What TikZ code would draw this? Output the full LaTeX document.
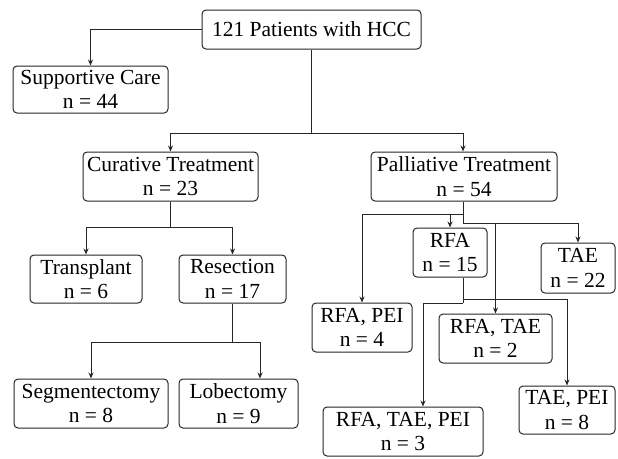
\documentclass[tikz,border=0pt]{standalone}
\usepackage{fontspec}
\setmainfont{Liberation Serif}
\usetikzlibrary{arrows.meta}
\begin{document}
\begin{tikzpicture}[x=1pt,y=-1pt,
  box/.style={draw=black!85,line width=1pt,rounded corners=4pt,inner sep=0pt,align=center,font=\fontsize{21.5}{24.5}\selectfont},
  link/.style={draw=black!85,line width=1pt},
  arr/.style={link,-{Stealth[length=6pt,width=5pt]}}]
\useasboundingbox (0,0) rectangle (618,458);
\node[box,minimum width=219pt,minimum height=39pt] (root) at (311.5,29.5) {121 Patients with HCC};
\node[box,minimum width=155pt,minimum height=47pt] (supp) at (90.5,89.5) {Supportive Care\\n = 44};
\node[box,minimum width=175pt,minimum height=49pt] (cur) at (170.5,176.5) {Curative Treatment\\n = 23};
\node[box,minimum width=186pt,minimum height=49pt] (pal) at (464,176.5) {Palliative Treatment\\n = 54};
\node[box,minimum width=112pt,minimum height=48pt] (trans) at (86,279) {Transplant\\n = 6};
\node[box,minimum width=107pt,minimum height=48pt] (res) at (232.5,279) {Resection\\n = 17};
\node[box,minimum width=154pt,minimum height=49pt] (seg) at (91,403.5) {Segmentectomy\\n = 8};
\node[box,minimum width=119pt,minimum height=49pt] (lob) at (238.5,403.5) {Lobectomy\\n = 9};
\node[box,minimum width=74pt,minimum height=49pt] (rfa) at (450,252.5) {RFA\\n = 15};
\node[box,minimum width=74pt,minimum height=50pt] (tae) at (578,268) {TAE\\n = 22};
\node[box,minimum width=100pt,minimum height=49pt] (rfapei) at (362,327.5) {RFA, PEI\\n = 4};
\node[box,minimum width=113pt,minimum height=49pt] (rfatae) at (495.5,338.5) {RFA, TAE\\n = 2};
\node[box,minimum width=96pt,minimum height=48pt] (taepei) at (567,410) {TAE, PEI\\n = 8};
\node[box,minimum width=160pt,minimum height=49pt] (rfataepei) at (403,431.5) {RFA, TAE, PEI\\n = 3};
% root
\draw[arr] (root.west) -| (supp.north);
\coordinate (j1) at (311.5,133);
\draw[link] (root.south) -- (j1);
\draw[arr] (j1) -| (cur.north);
\draw[arr] (j1) -| ([xshift=-1pt]pal.north);
% curative
\coordinate (j2) at (170.5,227);
\draw[link] (cur.south) -- (j2);
\draw[arr] (j2) -| (trans.north);
\draw[arr] (j2) -| (res.north);
% resection
\coordinate (j3) at (232.5,342);
\draw[link] (res.south) -- (j3);
\draw[arr] (j3) -| (seg.north);
\draw[arr] (j3) -| ([xshift=21.5pt]lob.north);
% palliative
\coordinate (j4) at (463,214);
\coordinate (j5) at (463,223);
\draw[link] ([xshift=-1pt]pal.south) -- (j5);
\draw[arr] (j4) -| (rfapei.north);
\draw[arr] (rfa.north |- j4) -- (rfa.north);
\draw[arr] (j5) -| (tae.north);
\draw[arr] (rfatae.north |- j5) -- (rfatae.north);
% RFA combos
\coordinate (j6) at (463,299);
\coordinate (j7) at (463,303);
\draw[link] (rfa.south -| j6) -- (j7);
\draw[arr] (j6) -| (taepei.north);
\draw[arr] (j7) -| ([xshift=20pt]rfataepei.north);
\end{tikzpicture}
\end{document}
